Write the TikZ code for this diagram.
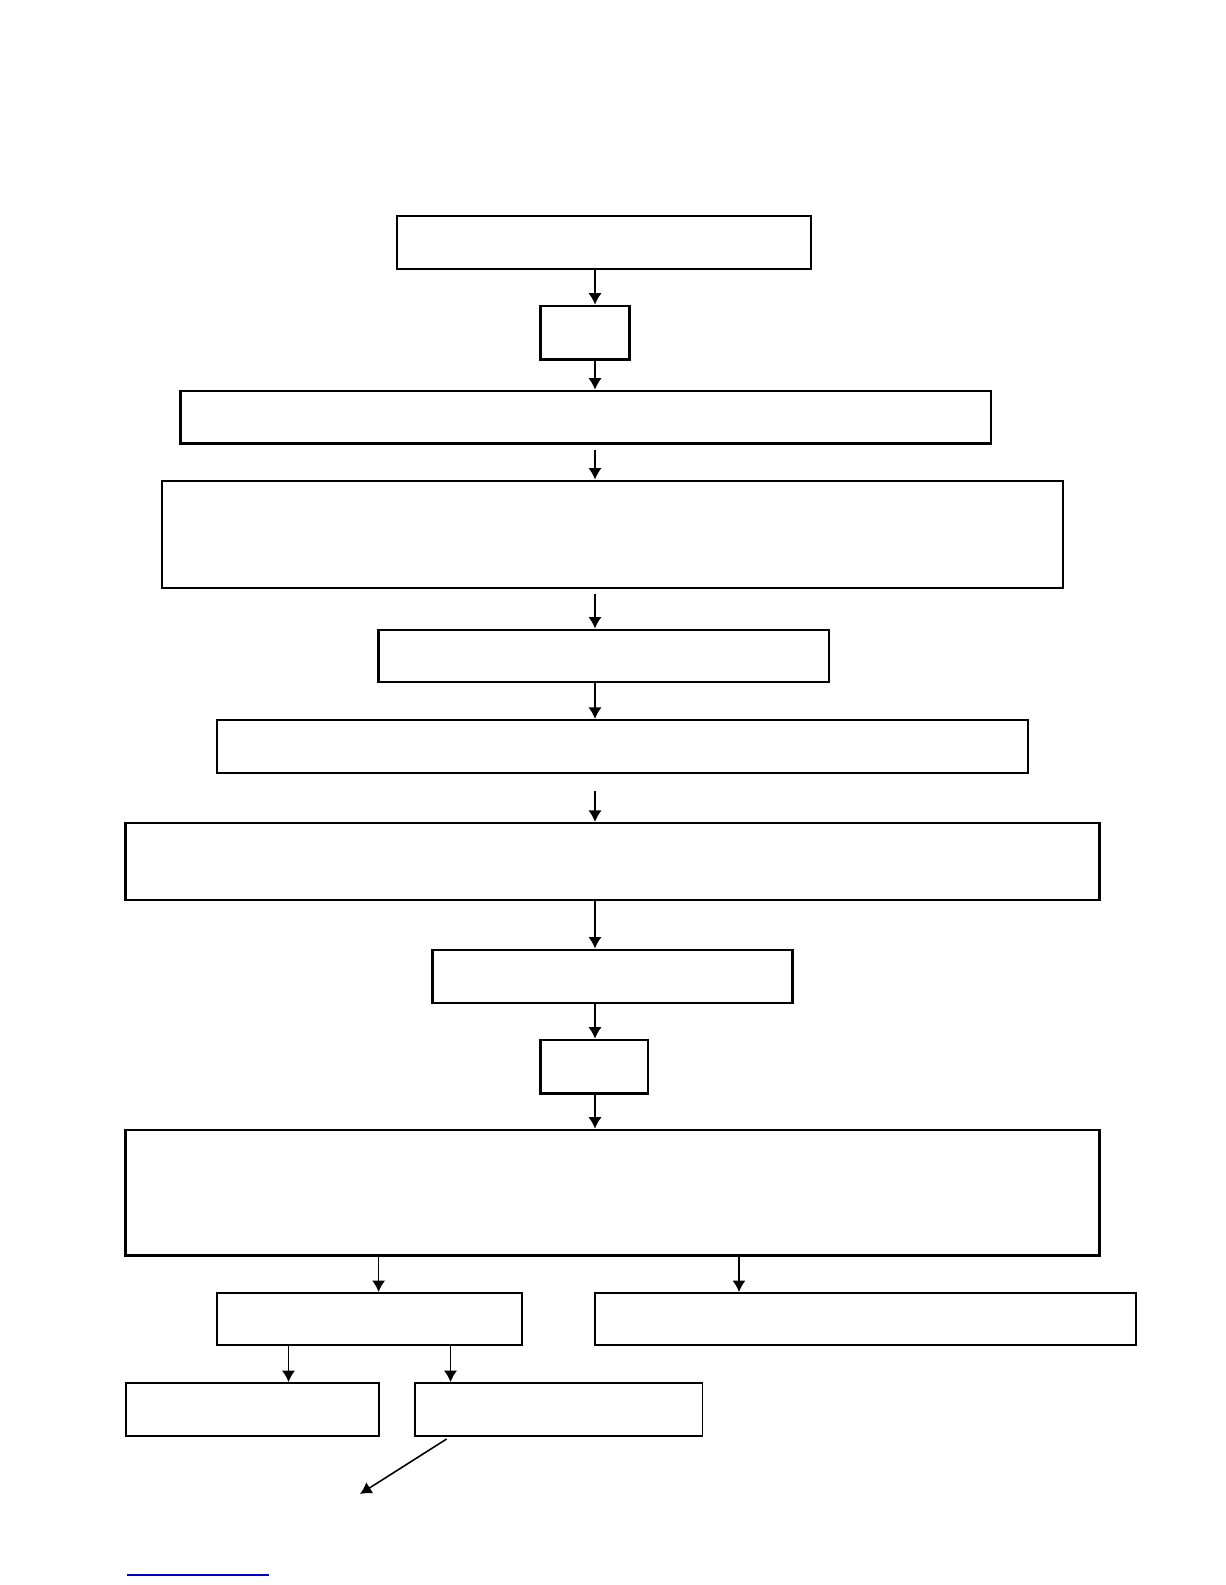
\documentclass[tikz,border=0pt]{standalone}
\usetikzlibrary{arrows.meta}
\begin{document}
\begin{tikzpicture}[x=0.02cm, y=-0.02cm,
    caixa/.style={draw, line width=1.4pt, inner sep=0pt},
    seta/.style={-{Latex[length=6.5pt,width=7.5pt]}, line width=0.9pt}]
    \useasboundingbox (0,0) rectangle (1225,1585);

    % Colunas das setas
    \coordinate (eixo) at (595,0);
    \coordinate (colA) at (378.6,0);
    \coordinate (colB) at (739,0);
    \coordinate (colC) at (288.5,0);
    \coordinate (colD) at (450.5,0);

    % Caixas
    \node[caixa, minimum width=8.28cm, minimum height=1.07cm] (c1) at (603.9,242.5) {};
    \node[caixa, minimum width=1.78cm, minimum height=1.07cm] (c2) at (585.2,332.6) {};
    \node[caixa, minimum width=16.22cm, minimum height=1.05cm] (c3) at (585.7,417.1) {};
    \node[caixa, minimum width=18.02cm, minimum height=2.15cm] (c4) at (612.5,534.5) {};
    \node[caixa, minimum width=9.01cm, minimum height=1.05cm] (c5) at (603.9,656) {};
    \node[caixa, line width=1.1pt, minimum width=16.22cm, minimum height=1.07cm] (c6) at (622.1,746.6) {};
    \node[caixa, minimum width=19.48cm, minimum height=1.54cm] (c7) at (612.5,861.6) {};
    \node[caixa, minimum width=7.21cm, minimum height=1.07cm] (c8) at (612.5,976.5) {};
    \node[caixa, minimum width=2.15cm, minimum height=1.07cm] (c9) at (594.3,1066.6) {};
    \node[caixa, minimum width=19.48cm, minimum height=2.51cm] (c10) at (612.5,1192.6) {};
    \node[caixa, line width=1.1pt, minimum width=6.11cm, minimum height=1.05cm] (c11) at (369.5,1319.2) {};
    \node[caixa, line width=1.1pt, minimum width=10.81cm, minimum height=1.05cm] (c12) at (865.6,1319.2) {};
    \node[caixa, line width=1.1pt, minimum width=5.06cm, minimum height=1.05cm] (c13) at (252.1,1409.3) {};
    \node[caixa, line width=1.1pt, minimum width=5.75cm, minimum height=1.05cm] (c14) at (558.8,1409.3) {};

    % Setas principais
    \draw[seta] (c1.south -| eixo) -- (c2.north -| eixo);
    \draw[seta] (c2.south -| eixo) -- (c3.north -| eixo);
    \draw[seta, shorten <=0.1cm] (c3.south -| eixo) -- (c4.north -| eixo);
    \draw[seta, shorten <=0.1cm] (c4.south -| eixo) -- (c5.north -| eixo);
    \draw[seta] (c5.south -| eixo) -- (c6.north -| eixo);
    \draw[seta, shorten <=0.34cm] (c6.south -| eixo) -- (c7.north -| eixo);
    \draw[seta] (c7.south -| eixo) -- (c8.north -| eixo);
    \draw[seta] (c8.south -| eixo) -- (c9.north -| eixo);
    \draw[seta] (c9.south -| eixo) -- (c10.north -| eixo);

    % Ramificacoes
    \draw[seta] (c10.south -| colA) -- (c11.north -| colA);
    \draw[seta] (c10.south -| colB) -- (c12.north -| colB);
    \draw[seta] (c11.south -| colC) -- (c13.north -| colC);
    \draw[seta] (c11.south -| colD) -- (c14.north -| colD);

    % Seta diagonal
    \coordinate (fim) at (360,1494);
    \draw[seta, shorten <=0.09cm] (c14.south -| colD) -- (fim);

    % Linha azul
    \draw[blue!80!black, line width=0.8pt] (127,1575) -- (269,1575);
\end{tikzpicture}
\end{document}
